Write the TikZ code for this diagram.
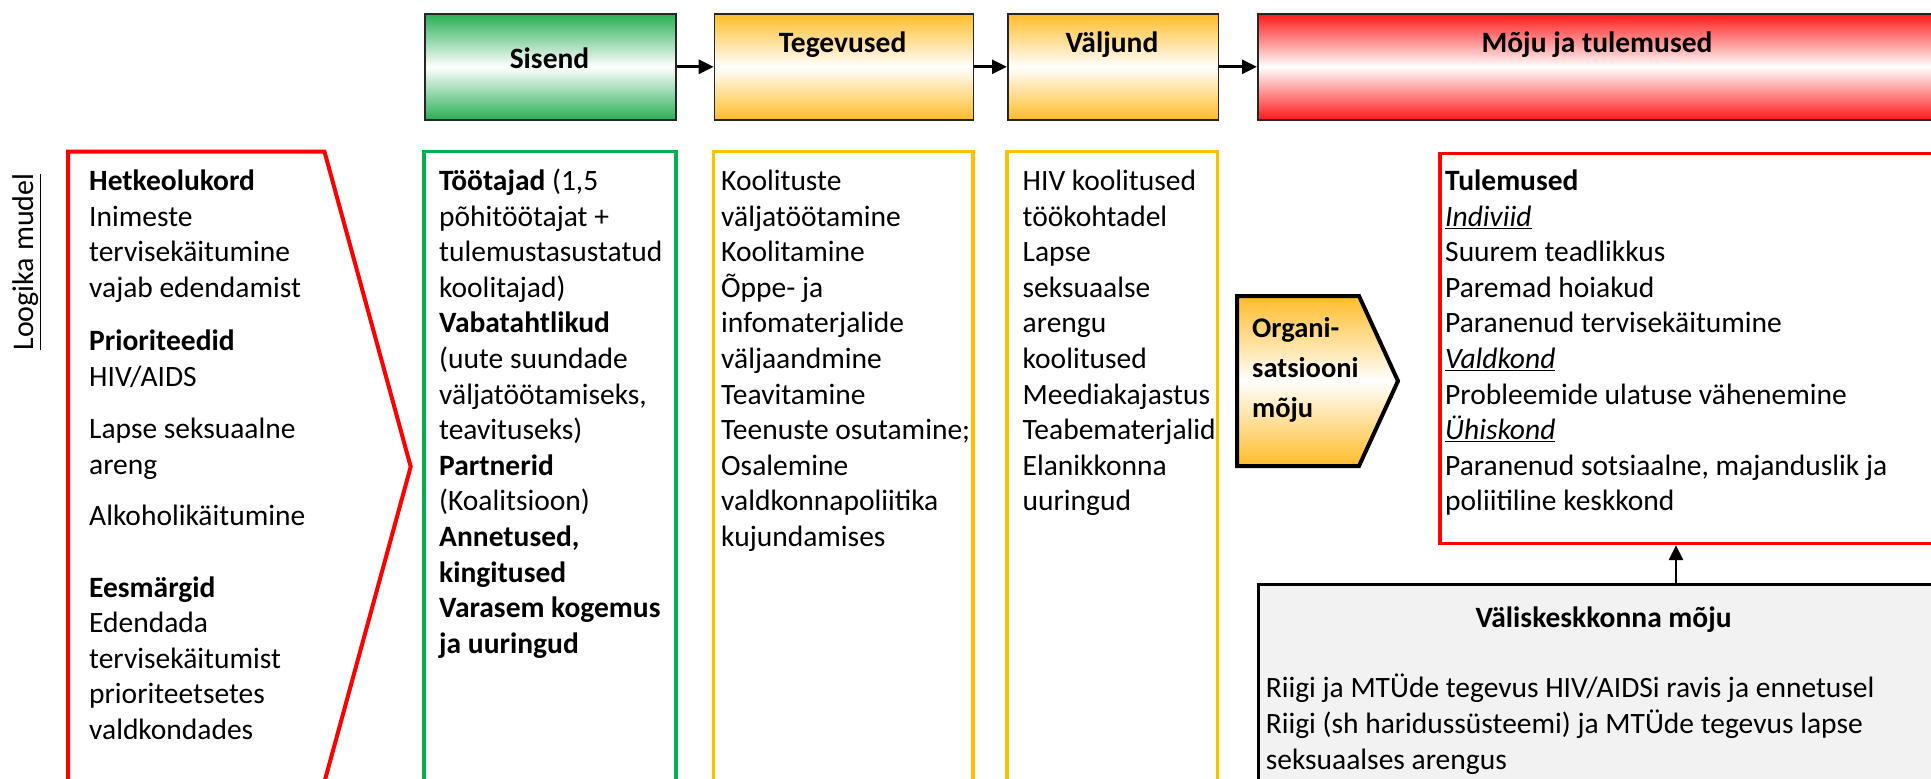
\documentclass[tikz,border=0pt]{standalone}
\usepackage{fontspec}
\setmainfont{Carlito}
\usetikzlibrary{arrows.meta}
\definecolor{grn}{RGB}{40,175,85}
\definecolor{org}{RGB}{255,188,40}
\definecolor{rd}{RGB}{255,25,25}
\definecolor{bdrgrn}{RGB}{0,176,80}
\definecolor{bdryel}{RGB}{255,192,0}
\definecolor{bdrred}{RGB}{255,0,0}
\definecolor{greyfill}{RGB}{242,242,242}
\begin{document}
\begin{tikzpicture}[x=1pt,y=-1pt,
  body/.style={anchor=base west, inner sep=0pt, font=\fontsize{29.5}{35.6}\selectfont},
  head/.style={anchor=base, inner sep=0pt, font=\fontsize{29.5}{34}\selectfont\bfseries},
  topbox/.style={draw=black!85, line width=1.6pt, anchor=north west, inner sep=0pt},
  panel/.style={line width=3.5pt},
  flow/.style={line width=2.8pt, -{Triangle[length=15pt,width=14pt]}}
]
\useasboundingbox (0,0) rectangle (1931,779);
\begin{scope}
\clip (0,0) rectangle (1931,779);

% top boxes
\node[topbox, top color=grn, bottom color=grn, middle color=white, minimum width=251pt, minimum height=106pt] (sisend) at (424,13) {};
\node[topbox, top color=org, bottom color=org, middle color=white, minimum width=259pt, minimum height=106pt] (teg) at (713.7,13) {};
\node[topbox, top color=org, bottom color=org, middle color=white, minimum width=210.7pt, minimum height=106pt] (valj) at (1007,13) {};
\node[topbox, top color=rd, bottom color=rd, middle color=white, minimum width=690pt, minimum height=106pt] (moju) at (1257,13) {};
\node[head] (sisendlbl) at (549.5,68) {Sisend};
\node[head] (teglbl) at (842.6,52) {Tegevused};
\node[head] (valjlbl) at (1112,52) {Väljund};
\node[head] (mojulbl) at (1597,52) {Mõju ja tulemused};
\draw[flow] (sisend.east) -- (teg.west);
\draw[flow] (teg.east) -- (valj.west);
\draw[flow] (valj.east) -- (moju.west);

% side label
\node[rotate=90, inner sep=0pt, font=\fontsize{30}{36}\selectfont] (loogika) at (27,262) {\underline{Loogika mudel}};

% left red chevron panel
\draw[bdrred, line width=4pt] (68,151.7) -- (324.5,151.7) -- (410.7,466.7) -- (324.5,781.7) -- (68,781.7) -- cycle;
\node[body] (situatsioon) at (89,190.5) {\parbox[t]{320pt}{\textbf{Hetkeolukord}\\ Inimeste\\ tervisekäitumine\\ vajab edendamist\\[18pt] \textbf{Prioriteedid}\\ HIV/AIDS\\[16.4pt] Lapse seksuaalne\\ areng\\[16pt] Alkoholikäitumine\\[35.7pt] \textbf{Eesmärgid}\\ Edendada\\ tervisekäitumist\\ prioriteetsetes\\ valdkondades}};

% green input panel
\draw[bdrgrn, panel] (424,151.7) rectangle (676,800);
\node[body] (sisendtxt) at (439,190.5) {\parbox[t]{260pt}{\textbf{Töötajad} (1,5\\ põhitöötajat +\\ tulemustasustatud\\ koolitajad)\\ \textbf{Vabatahtlikud}\\ (uute suundade\\ väljatöötamiseks,\\ teavituseks)\\ \textbf{Partnerid}\\ (Koalitsioon)\\ \textbf{Annetused,}\\ \textbf{kingitused}\\ \textbf{Varasem kogemus}\\ \textbf{ja uuringud}}};

% yellow activities panel
\draw[bdryel, panel] (713.7,151.7) rectangle (972.8,800);
\node[body] (tegtxt) at (721,190.5) {\parbox[t]{280pt}{Koolituste\\ väljatöötamine\\ Koolitamine\\ Õppe- ja\\ infomaterjalide\\ väljaandmine\\ Teavitamine\\ Teenuste osutamine;\\ Osalemine\\ valdkonnapoliitika\\ kujundamises}};

% yellow output panel
\draw[bdryel, panel] (1007,151.7) rectangle (1217.7,800);
\node[body] (valjtxt) at (1022.5,190.5) {\parbox[t]{240pt}{HIV koolitused\\ töökohtadel\\ Lapse\\ seksuaalse\\ arengu\\ koolitused\\ Meediakajastus\\ Teabematerjalid\\ Elanikkonna\\ uuringud}};

% organisational impact chevron
\draw[line width=4pt, top color=org, bottom color=org, middle color=white] (1237,296) -- (1359,296) -- (1398,381) -- (1359,466) -- (1237,466) -- cycle;
\node[body, font=\fontsize{28.5}{40}\selectfont\bfseries] (organi) at (1252,337) {\parbox[t]{140pt}{Organi-\\ satsiooni\\ mõju}};

% results panel
\node[draw=bdrred, panel, anchor=north west, inner sep=0pt, minimum width=520pt, minimum height=390pt] (tul) at (1438,151.7) {};
\node[body] (tultxt) at (1445,190.5) {\parbox[t]{480pt}{\textbf{Tulemused}\\ \underline{\textit{Indiviid}}\\ Suurem teadlikkus\\ Paremad hoiakud\\ Paranenud tervisekäitumine\\ \underline{\textit{Valdkond}}\\ Probleemide ulatuse vähenemine\\ \underline{\textit{Ühiskond}}\\ Paranenud sotsiaalne, majanduslik ja\\ poliitiline keskkond}};

% external environment box
\node[draw=black, line width=2.5pt, fill=greyfill, anchor=north west, inner sep=0pt, minimum width=700pt, minimum height=240pt] (valis) at (1257,583) {};
\node[head] (valishead) at (1603.6,627) {Väliskeskkonna mõju};
\node[body, font=\fontsize{29.5}{36}\selectfont] (valistxt) at (1265.6,697) {\parbox[t]{660pt}{Riigi ja MTÜde tegevus HIV/AIDSi ravis ja ennetusel\\ Riigi (sh haridussüsteemi) ja MTÜde tegevus lapse\\ seksuaalses arengus}};
\coordinate (arrx) at (1676,0);
\draw[flow] (arrx |- valis.north) -- (arrx |- tul.south);
\end{scope}
\end{tikzpicture}
\end{document}
